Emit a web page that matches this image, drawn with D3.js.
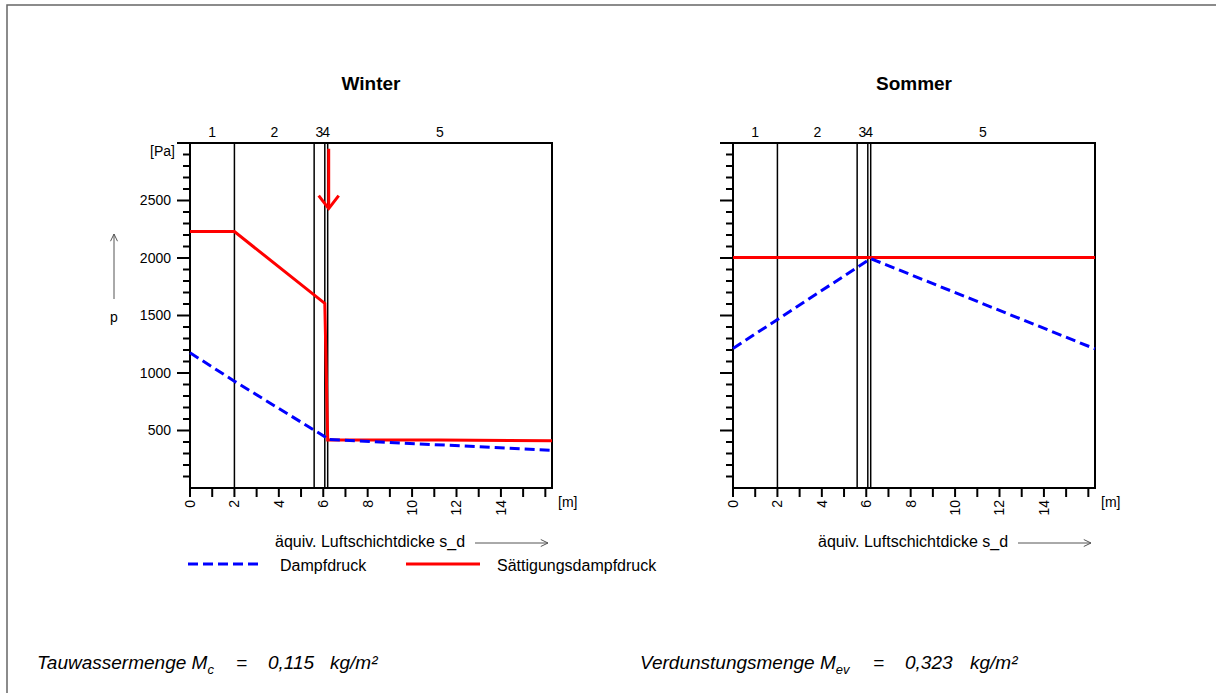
<!DOCTYPE html>
<html lang="de">
<head>
    <meta charset="utf-8">
    <script src="https://d3js.org/d3.v7.min.js"></script>
    <style>
        body { margin: 0; background: #fff; }
        text { font-family: Arial, "Liberation Sans", sans-serif; fill: #000; }
        .title { font-size: 19px; font-weight: bold; text-anchor: middle; }
        .tick-label { font-size: 14px; }
        .legend-label { font-size: 16px; }
        .result { font-size: 19px; font-style: italic; }
    </style>
</head>
<body>
    <div id="chart"></div>
    <script>
        // layer boundaries (equivalent air layer thickness s_d in m)
        const layerBounds = [0, 2, 5.59, 6.07, 6.2, 16.3];
        const layerNames = ["1", "2", "3", "4", "5"];

        const xTicks = [0, 1, 2, 3, 4, 5, 6, 7, 8, 9, 10, 11, 12, 13, 14, 15, 16];
        const xTickLabels = [0, 2, 4, 6, 8, 10, 12, 14];
        const yMajorTicks = [500, 1000, 1500, 2000, 2500, 3000];
        const yTickLabels = [500, 1000, 1500, 2000, 2500];

        // winter
        const winterSatX = [0, 2, 6.07, 6.2, 11.2, 16.3];
        const winterSatP = [2230, 2230, 1605, 418, 418, 411];
        const winterVapX = [0, 2, 6.07, 6.2, 16.3];
        const winterVapP = [1176, 929, 446, 422, 328];

        // summer
        const summerSatX = [0, 16.3];
        const summerSatP = [2005, 2005];
        const summerVapX = [0, 6.2, 16.3];
        const summerVapP = [1213, 1995, 1210];

        // condensation marker (winter)
        const condX = 6.2;
        const condTop = 2950;
        const condTip = 2430;

        const width = 1216;
        const height = 693;
        const plotW = 362;
        const plotTop = 143;
        const plotBottom = 488;

        const svg = d3.select("#chart")
            .append("svg")
            .attr("width", width)
            .attr("height", height);

        // outer frame
        svg.append("rect")
            .attr("x", 7)
            .attr("y", 5)
            .attr("width", width + 20)
            .attr("height", height + 20)
            .attr("fill", "none")
            .attr("stroke", "#666")
            .attr("stroke-width", 1.5);

        const yScale = d3.scaleLinear().domain([0, 3000]).range([plotBottom, plotTop]);

        function drawArrow(g, x1, y1, x2, y2) {
            const ang = Math.atan2(y2 - y1, x2 - x1);
            const len = 8, spread = 0.45;
            g.append("line")
                .attr("x1", x1).attr("y1", y1).attr("x2", x2).attr("y2", y2)
                .attr("stroke", "#555").attr("stroke-width", 1);
            g.append("path")
                .attr("d", d3.line()([
                    [x2 - len * Math.cos(ang - spread), y2 - len * Math.sin(ang - spread)],
                    [x2, y2],
                    [x2 - len * Math.cos(ang + spread), y2 - len * Math.sin(ang + spread)]
                ]))
                .attr("fill", "none").attr("stroke", "#555").attr("stroke-width", 1);
        }

        function drawPanel(x0, title, satX, satP, vapX, vapP, showYLabels) {
            const xScale = d3.scaleLinear().domain([0, 16.3]).range([x0, x0 + plotW]);
            const g = svg.append("g");

            g.append("text")
                .attr("class", "title")
                .attr("x", x0 + plotW / 2)
                .attr("y", 90)
                .text(title);

            // minor y ticks every 100 Pa
            const minor = d3.range(100, 3000, 100).filter(v => v % 500 !== 0);
            g.selectAll(".ymin").data(minor).enter().append("line")
                .attr("x1", x0 - 7).attr("x2", x0)
                .attr("y1", d => yScale(d)).attr("y2", d => yScale(d))
                .attr("stroke", "#000").attr("stroke-width", 2);
            g.selectAll(".ymaj").data(yMajorTicks).enter().append("line")
                .attr("x1", x0 - 13).attr("x2", x0)
                .attr("y1", d => yScale(d)).attr("y2", d => yScale(d))
                .attr("stroke", "#000").attr("stroke-width", 2);

            if (showYLabels) {
                g.selectAll(".ylab").data(yTickLabels).enter().append("text")
                    .attr("class", "tick-label")
                    .attr("x", x0 - 19)
                    .attr("y", d => yScale(d))
                    .attr("dy", "0.35em")
                    .attr("text-anchor", "end")
                    .text(d => d);
                g.append("text")
                    .attr("class", "tick-label")
                    .attr("x", x0 - 15)
                    .attr("y", yScale(3000) + 8)
                    .attr("dy", "0.35em")
                    .attr("text-anchor", "end")
                    .text("[Pa]");
            }

            // x ticks
            g.selectAll(".xt").data(xTicks).enter().append("line")
                .attr("x1", d => xScale(d)).attr("x2", d => xScale(d))
                .attr("y1", plotBottom).attr("y2", plotBottom + 9)
                .attr("stroke", "#000").attr("stroke-width", 2);
            g.selectAll(".xl").data(xTickLabels).enter().append("text")
                .attr("class", "tick-label")
                .attr("transform", d => "translate(" + xScale(d) + "," + (plotBottom + 12) + ") rotate(-90)")
                .attr("dy", "0.35em")
                .attr("text-anchor", "end")
                .text(d => d);
            g.append("text")
                .attr("class", "tick-label")
                .attr("x", x0 + plotW + 6)
                .attr("y", plotBottom + 19)
                .text("[m]");

            // layer boundaries and names
            g.selectAll(".layer").data(layerBounds.slice(1, -1)).enter().append("line")
                .attr("x1", d => xScale(d)).attr("x2", d => xScale(d))
                .attr("y1", plotTop).attr("y2", plotBottom)
                .attr("stroke", "#000").attr("stroke-width", 1.5);
            g.selectAll(".lname").data(layerNames).enter().append("text")
                .attr("class", "tick-label")
                .attr("text-anchor", "middle")
                .attr("x", (d, i) => xScale((layerBounds[i] + layerBounds[i + 1]) / 2))
                .attr("y", 137)
                .text(d => d);

            // frame of the plot
            g.append("path")
                .attr("d", d3.line()([
                    [x0 - 13, plotTop], [x0 + plotW, plotTop],
                    [x0 + plotW, plotBottom], [x0, plotBottom], [x0, plotTop]
                ]))
                .attr("fill", "none").attr("stroke", "#000").attr("stroke-width", 2);

            const line = d3.line().x(d => xScale(d[0])).y(d => yScale(d[1]));

            g.append("path")
                .attr("d", line(satX.map((x, i) => [x, satP[i]])))
                .attr("fill", "none").attr("stroke", "#ff0000").attr("stroke-width", 3);
            g.append("path")
                .attr("d", line(vapX.map((x, i) => [x, vapP[i]])))
                .attr("fill", "none").attr("stroke", "#0000ff").attr("stroke-width", 3)
                .attr("stroke-dasharray", "10,5");

            // axis title with arrow
            g.append("text")
                .attr("class", "legend-label")
                .attr("x", x0 + 85)
                .attr("y", 547)
                .text("äquiv. Luftschichtdicke s_d");
            drawArrow(g, x0 + 285, 543, x0 + 358, 543);

            return xScale;
        }

        const xW = drawPanel(190, "Winter", winterSatX, winterSatP, winterVapX, winterVapP, true);
        drawPanel(733, "Sommer", summerSatX, summerSatP, summerVapX, summerVapP, false);

        // condensation arrow
        const ax = xW(condX) + 1;
        svg.append("line")
            .attr("x1", ax).attr("x2", ax)
            .attr("y1", yScale(condTop)).attr("y2", yScale(condTip) - 2)
            .attr("stroke", "#ff0000").attr("stroke-width", 3);
        svg.append("path")
            .attr("d", d3.line()([[ax - 10, yScale(condTip) - 13], [ax, yScale(condTip)], [ax + 10, yScale(condTip) - 13]]))
            .attr("fill", "none").attr("stroke", "#ff0000").attr("stroke-width", 3);

        // p label with up arrow
        svg.append("text")
            .attr("class", "tick-label")
            .attr("x", 114).attr("y", 322)
            .attr("text-anchor", "middle")
            .text("p");
        drawArrow(svg, 114, 299, 114, 234);

        // legend
        svg.append("line")
            .attr("x1", 188).attr("x2", 262).attr("y1", 564).attr("y2", 564)
            .attr("stroke", "#0000ff").attr("stroke-width", 3).attr("stroke-dasharray", "10,5");
        svg.append("text").attr("class", "legend-label").attr("x", 280).attr("y", 571).text("Dampfdruck");
        svg.append("line")
            .attr("x1", 406).attr("x2", 480).attr("y1", 564).attr("y2", 564)
            .attr("stroke", "#ff0000").attr("stroke-width", 3);
        svg.append("text").attr("class", "legend-label").attr("x", 497).attr("y", 571).text("Sättigungsdampfdruck");

        // results
        function result(x, name, sub, eqX, value, valX, unitX) {
            const t = svg.append("text").attr("class", "result").attr("x", x).attr("y", 669);
            t.append("tspan").text(name + " M");
            t.append("tspan").attr("dy", 5).attr("font-size", "13px").text(sub);
            svg.append("text").attr("class", "result").attr("x", eqX).attr("y", 669).text("=");
            svg.append("text").attr("class", "result").attr("x", valX).attr("y", 669).text(value);
            svg.append("text").attr("class", "result").attr("x", unitX).attr("y", 669).text("kg/m²");
        }
        result(37, "Tauwassermenge", "c", 236, "0,115", 268, 330);
        result(640, "Verdunstungsmenge", "ev", 873, "0,323", 905, 970);
    </script>
</body>
</html>
